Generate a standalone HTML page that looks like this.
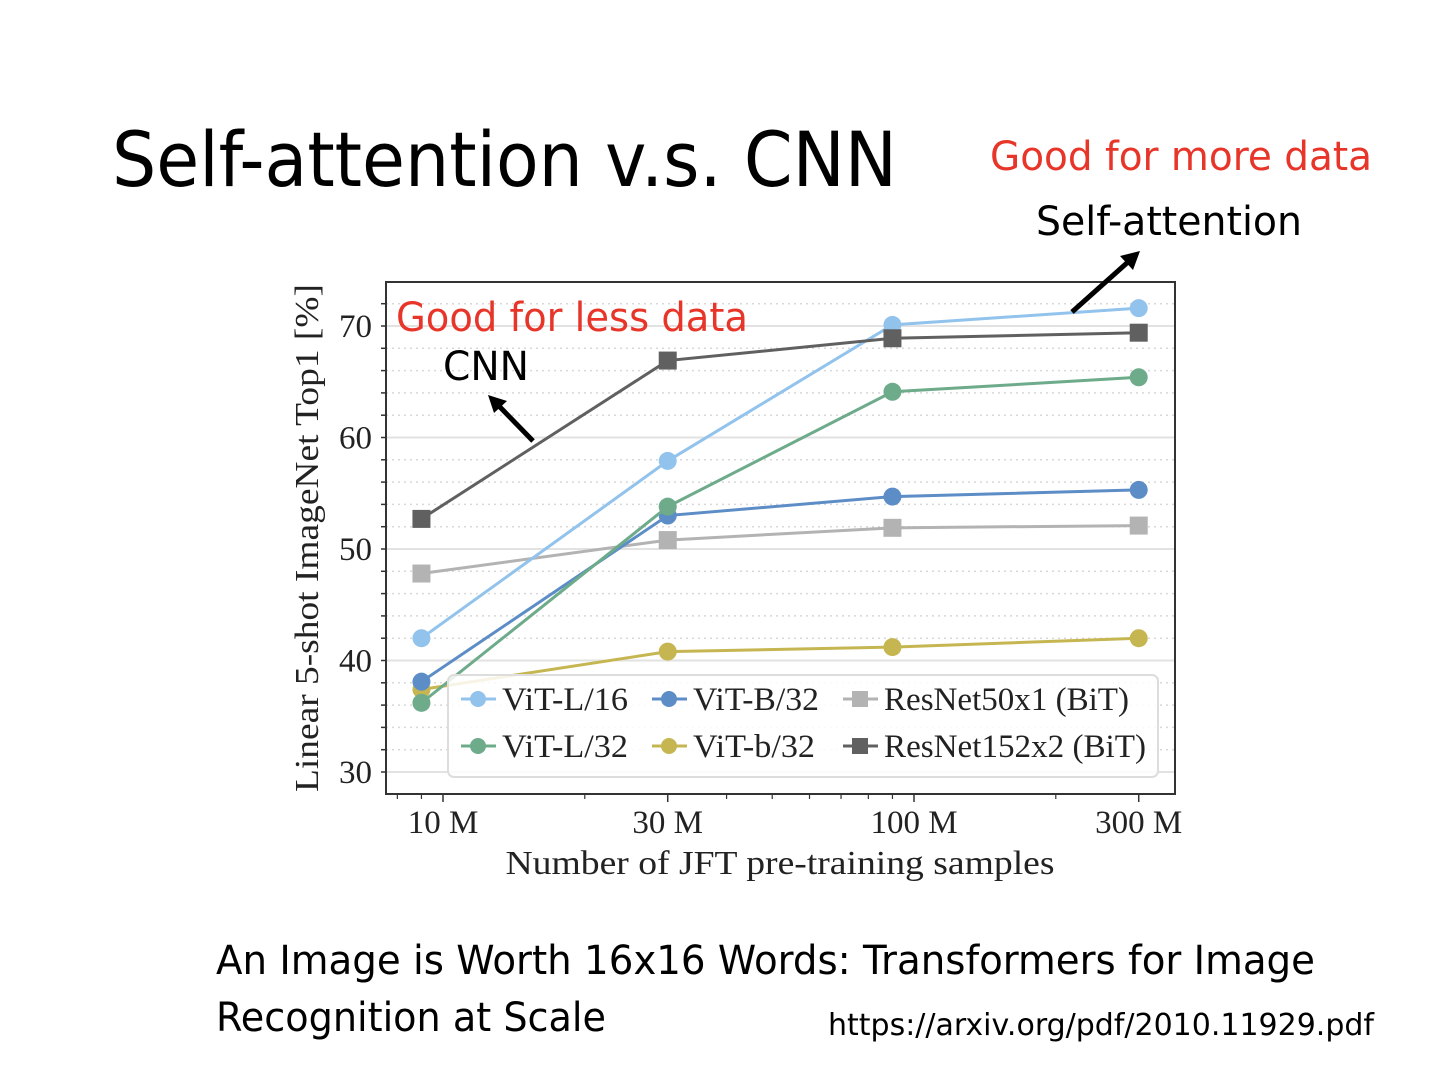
<!DOCTYPE html>
<html><head><meta charset="utf-8"><style>
body{margin:0;background:#fff;width:1440px;height:1080px;overflow:hidden;font-family:"Liberation Sans",sans-serif}
svg{position:absolute;left:0;top:0}
</style></head><body>
<svg width="1440" height="1080" id="chart">
<text x="112" y="186" font-size="76" textLength="785" lengthAdjust="spacingAndGlyphs" fill="#000" font-family="DejaVu Sans, Liberation Sans, sans-serif">Self-attention v.s. CNN</text>
<text x="990" y="170" font-size="40" textLength="382" lengthAdjust="spacingAndGlyphs" fill="#e8352a" font-family="DejaVu Sans, Liberation Sans, sans-serif">Good for more data</text>
<text x="1036" y="235" font-size="40" textLength="266" lengthAdjust="spacingAndGlyphs" fill="#000" font-family="DejaVu Sans, Liberation Sans, sans-serif">Self-attention</text>
<g id="plot"></g>
<text x="396" y="331" font-size="40" textLength="352" lengthAdjust="spacingAndGlyphs" fill="#e8352a" font-family="DejaVu Sans, Liberation Sans, sans-serif">Good for less data</text>
<text x="443" y="380" font-size="40" textLength="86" lengthAdjust="spacingAndGlyphs" fill="#000" font-family="DejaVu Sans, Liberation Sans, sans-serif">CNN</text>
<g><line x1="533" y1="441" x2="498" y2="405" stroke="#000" stroke-width="5"/><polygon points="488,395 507,401 494,413" fill="#000"/></g>
<g><line x1="1072" y1="312" x2="1128" y2="262" stroke="#000" stroke-width="5"/><polygon points="1140,251 1133,270 1120,256" fill="#000"/></g>
<text x="216" y="974" font-size="40" textLength="1099" lengthAdjust="spacingAndGlyphs" fill="#000" font-family="DejaVu Sans, Liberation Sans, sans-serif">An Image is Worth 16x16 Words: Transformers for Image</text>
<text x="216" y="1031" font-size="40" textLength="390" lengthAdjust="spacingAndGlyphs" fill="#000" font-family="DejaVu Sans, Liberation Sans, sans-serif">Recognition at Scale</text>
<text x="828" y="1035" font-size="30" textLength="546" lengthAdjust="spacingAndGlyphs" fill="#000" font-family="DejaVu Sans, Liberation Sans, sans-serif">https://arxiv.org/pdf/2010.11929.pdf</text>
</svg>
<script>
const xValues=[9,30,90,300];
const seriesNames=["ViT-L/16","ViT-B/32","ResNet50x1 (BiT)","ViT-L/32","ViT-b/32","ResNet152x2 (BiT)"];
const vitL16=[42.0,57.9,70.1,71.6];
const vitB32=[38.1,53.0,54.7,55.3];
const resnet50=[47.8,50.8,51.9,52.1];
const vitL32=[36.2,53.8,64.1,65.4];
const vitb32=[37.4,40.8,41.2,42.0];
const resnet152=[52.7,66.9,68.9,69.4];
const yTicks=[30,40,50,60,70];
const xTicks=[10,30,100,300];
const xTickLabels=["10 M","30 M","100 M","300 M"];

const NS="http://www.w3.org/2000/svg";
const g=document.getElementById('plot');
function mk(t,a,p){const e=document.createElementNS(NS,t);for(const k in a)e.setAttribute(k,a[k]);(p||g).appendChild(e);return e;}
const L=386,R=1175,T=282,B=794;
const ys=v=>772-(v-30)*11.15;
const xs=v=>443+(Math.log10(v)-1)*471;
const serif='"Liberation Serif",serif';
for(let v=30;v<=72;v+=2){
  const major=v%10===0;
  const ln=mk('line',{x1:L,x2:R,y1:ys(v),y2:ys(v),stroke:major?'#e2e2e2':'#d8d8d8','stroke-width':major?2:1.5,'stroke-dasharray':major?'':'2,4'});
  
  
  mk('line',{x1:L-5,x2:L,y1:ys(v),y2:ys(v),stroke:'#333','stroke-width':1.5});
}
const frame=mk('rect',{x:L,y:T,width:R-L,height:B-T,fill:'none',stroke:'#333','stroke-width':2});


yTicks.forEach(v=>{
  const t=mk('text',{x:L-14,y:ys(v)+11,'text-anchor':'end','font-size':33,'font-family':serif,fill:'#222'});
  t.textContent=v;
  
  
});
xTicks.forEach((v,i)=>{
  mk('line',{x1:xs(v),x2:xs(v),y1:B,y2:B+8,stroke:'#333','stroke-width':1.5});
  const t=mk('text',{x:xs(v),y:B+39,'text-anchor':'middle','font-size':33,'font-family':serif,fill:'#222'});
  t.textContent=xTickLabels[i];
  
  
});
[8,9,20,40,50,60,70,80,90,200].forEach(v=>{if(xs(v)>L&&xs(v)<R)mk('line',{x1:xs(v),x2:xs(v),y1:B,y2:B+5,stroke:'#333','stroke-width':1.2});});
const yt=mk('text',{transform:'translate(318,538) rotate(-90)','text-anchor':'middle','font-size':34,'font-family':serif,fill:'#222',textLength:508,lengthAdjust:'spacingAndGlyphs'});
yt.textContent='Linear 5-shot ImageNet Top1 [%]';


const xt=mk('text',{x:780,y:874,'text-anchor':'middle','font-size':34,'font-family':serif,fill:'#222',textLength:549,lengthAdjust:'spacingAndGlyphs'});
xt.textContent='Number of JFT pre-training samples';



const series=[[resnet50,'#b3b3b3','s'],[vitb32,'#c6b652','o'],[vitB32,'#5c8dc6','o'],[vitL32,'#6dab8a','o'],[vitL16,'#92c3ec','o'],[resnet152,'#606060','s']];
const order=[2,4,1,3,0,5];
series.forEach((s,i)=>{
  const sg=mk('g',{});
  
  
  mk('polyline',{points:s[0].map((v,j)=>xs(xValues[j])+','+ys(v)).join(' '),fill:'none',stroke:s[1],'stroke-width':3},sg);
  s[0].forEach((v,j)=>{
    const m=s[2]==='o'?mk('circle',{cx:xs(xValues[j]),cy:ys(v),r:9,fill:s[1]},sg):mk('rect',{x:xs(xValues[j])-9,y:ys(v)-9,width:18,height:18,fill:s[1]},sg);
    
    
  });
});
const lg=mk('g',{});


mk('rect',{x:448,y:675,width:710,height:102,rx:6,fill:'rgba(255,255,255,0.85)',stroke:'#ddd','stroke-width':2},lg);
const ent=[[461,699,'#92c3ec','o',0,126],[652,699,'#5c8dc6','o',1,126],[843,699,'#b3b3b3','s',2,245],[461,746,'#6dab8a','o',3,126],[652,746,'#c6b652','o',4,122],[843,746,'#606060','s',5,262]];
ent.forEach(e=>{
  const eg=mk('g',{},lg);
  
  
  mk('line',{x1:e[0],x2:e[0]+35,y1:e[1],y2:e[1],stroke:e[2],'stroke-width':3},eg);
  if(e[3]==='o')mk('circle',{cx:e[0]+17,cy:e[1],r:8,fill:e[2]},eg);else mk('rect',{x:e[0]+9,y:e[1]-8,width:16,height:16,fill:e[2]},eg);
  const t=mk('text',{x:e[0]+41,y:e[1]+11,'font-size':33,'font-family':serif,fill:'#222',textLength:e[5],lengthAdjust:'spacingAndGlyphs'},eg);
  t.textContent=seriesNames[e[4]];
});
</script>
</body></html>
